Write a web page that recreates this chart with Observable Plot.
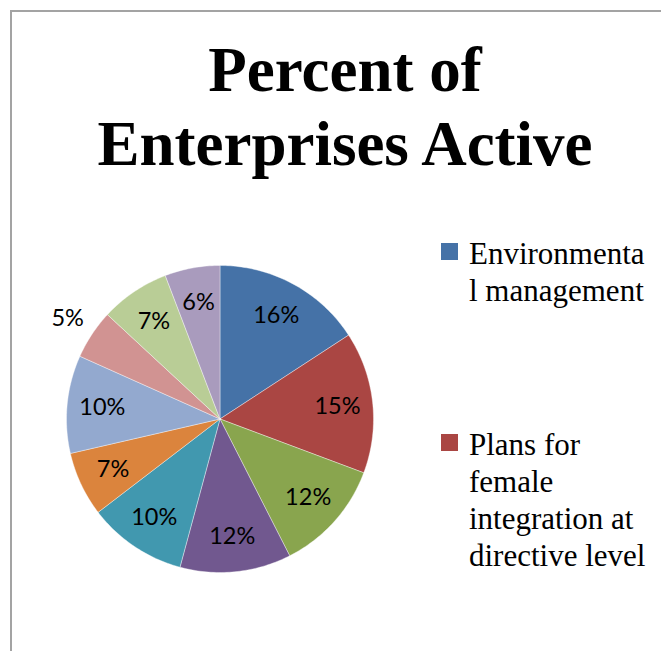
<!DOCTYPE html>
<html>
<head>
<meta charset="utf-8">
<script src="https://cdn.jsdelivr.net/npm/d3@7"></script>
<script src="https://cdn.jsdelivr.net/npm/@observablehq/plot@0.6"></script>
<style>
  html, body { margin: 0; padding: 0; background: #fff; }
  #wrap { position: relative; width: 661px; height: 651px; overflow: hidden; background: #fff; }
  #frame { position: absolute; left: 10px; top: 10px; width: 700px; height: 700px;
           border-left: 2px solid #a3a3a3; border-top: 2px solid #a3a3a3; box-sizing: border-box; }
  #chart { position: absolute; left: 0; top: 0; }
  #title { position: absolute; left: 45px; top: 33px; width: 600px; text-align: center;
           font-family: "Liberation Serif", "Times New Roman", serif; font-weight: bold;
           font-size: 63px; line-height: 74px; color: #000; }
  #legend { position: absolute; left: 441px; top: 235px; display: flex; flex-direction: column; gap: 117px; }
  .entry { display: flex; align-items: flex-start; }
  .sw { width: 17px; height: 17px; margin-top: 8px; margin-right: 11px; flex: none; }
  .lab { width: 180px; font-family: "Liberation Serif", "Times New Roman", serif; font-size: 31px;
         line-height: 37px; color: #000; overflow-wrap: anywhere; }
</style>
</head>
<body>
<div id="wrap">
  <div id="frame"></div>
  <div id="chart"></div>
  <div id="title"></div>
  <div id="legend"></div>
</div>
<script>
const titleLines = ["Percent of", "Enterprises Active"];
const categories = [
  "Environmental management",
  "Plans for female integration at directive level",
  "Category 3", "Category 4", "Category 5", "Category 6",
  "Category 7", "Category 8", "Category 9", "Category 10"
];
const values = [15.8, 14.9, 11.8, 11.7, 10.4, 6.8, 10.3, 5.2, 7.3, 5.8];
const colors = ["#4572A7", "#AA4643", "#89A54E", "#71588F", "#4198AF",
                "#DB843D", "#93A9CF", "#D19392", "#B9CD96", "#A99BBD"];
const legendShown = 2;

const rows = categories.map((c, i) => ({category: c, value: values[i]}));
const total = d3.sum(values);
const arcs = d3.pie().value(d => d.value).sort(null)(rows);

const pts = [];
arcs.forEach(a => {
  const c = a.data.category;
  pts.push({category: c, x: 0, y: 0});
  const n = Math.max(4, Math.ceil((a.endAngle - a.startAngle) / (Math.PI / 180)));
  for (let k = 0; k <= n; k++) {
    const t = a.startAngle + (a.endAngle - a.startAngle) * k / n;
    pts.push({category: c, x: Math.sin(t), y: Math.cos(t)});
  }
  pts.push({category: c, x: 0, y: 0});
});

const labels = arcs.map(a => {
  const m = (a.startAngle + a.endAngle) / 2;
  const pct = a.data.value / total * 100;
  const r = pct < 5.5 ? 1.19 : 0.77;
  return {x: r * Math.sin(m), y: r * Math.cos(m), text: Math.round(pct) + "%"};
});

const plot = Plot.plot({
  width: 661, height: 651, margin: 0,
  x: {domain: [-1, 1], range: [66, 373], axis: null},
  y: {domain: [-1, 1], range: [572, 265], axis: null},
  color: {domain: categories, range: colors},
  style: {background: "transparent"},
  marks: [
    Plot.line(pts, {x: "x", y: "y", z: "category", fill: "category",
                    stroke: "#ffffff", strokeWidth: 0.7, strokeOpacity: 0.55, curve: "linear"}),
    Plot.text(labels, {x: "x", y: "y", text: "text", fill: "#000",
                       fontSize: 23.5, fontFamily: "Lato, 'Open Sans', sans-serif"})
  ]
});
document.getElementById("chart").appendChild(plot);

const t = document.getElementById("title");
titleLines.forEach(s => { const d = document.createElement("div"); d.textContent = s; t.appendChild(d); });

const lg = document.getElementById("legend");
categories.slice(0, legendShown).forEach((c, i) => {
  const e = document.createElement("div"); e.className = "entry";
  const sw = document.createElement("div"); sw.className = "sw"; sw.style.background = colors[i];
  const lb = document.createElement("div"); lb.className = "lab"; lb.textContent = c;
  e.appendChild(sw); e.appendChild(lb); lg.appendChild(e);
});
</script>
</body>
</html>
